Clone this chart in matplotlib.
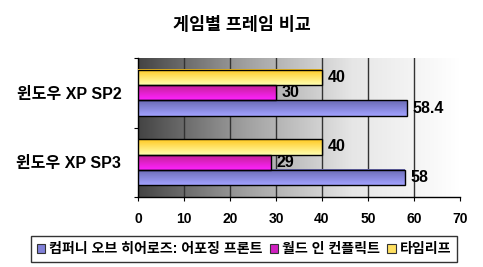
import numpy as np
import matplotlib
matplotlib.use('Agg')
import matplotlib.pyplot as plt
from matplotlib.colors import LinearSegmentedColormap
from matplotlib.patches import Patch

plt.rcParams['font.family'] = ['Liberation Sans', 'Noto Sans CJK KR']
plt.rcParams['font.weight'] = 'bold'

categories = ['윈도우 XP SP2', '윈도우 XP SP3']
series_names = ['컴퍼니 오브 히어로즈: 어포징 프론트', '월드 인 컨플릭트', '타임리프']
coh = [58.4, 58]
wic = [30, 29]
timeleap = [40, 40]
values = [coh, wic, timeleap]

# (top colour, bottom colour, legend colour)
colors = [('#6a6ab4', '#a2a2ff', '#8080d8'),
          ('#c02090', '#ff22ff', '#d020c0'),
          ('#ffc820', '#ffffb0', '#ffe060')]
offsets = [0.223, 0.0, -0.223]
bar_h = 0.223

fig = plt.figure(figsize=(4.83, 2.67), dpi=100)
ax = fig.add_axes([138/483, 1-197/267, 322/483, 139/267])

# background gradient
bg = LinearSegmentedColormap.from_list('bg', ['#444444', '#a0a0a0', '#e6e6e6', '#ffffff'])
ax.imshow(np.linspace(0, 1, 256).reshape(1, -1), cmap=bg, aspect='auto',
          extent=[0, 70, 1.5, -0.5], zorder=0)

y = np.arange(len(categories))
for vals, (c_top, c_bot, _), off in zip(values, colors, offsets):
    cmap = LinearSegmentedColormap.from_list('g', [c_top, c_bot])
    grad = np.linspace(0, 1, 64).reshape(-1, 1)
    for yi, v in zip(y, vals):
        y0 = yi + off - bar_h / 2
        y1 = yi + off + bar_h / 2
        ax.imshow(grad, cmap=cmap, aspect='auto', extent=[0, v, y1, y0], zorder=3)
        ax.text(v + 1.2, yi + off, f'{v:g}', va='center', ha='left',
                fontsize=11.5, fontweight='bold', zorder=5)
    ax.barh(y + off, vals, height=bar_h, facecolor='none', edgecolor='black',
            linewidth=1.0, zorder=4)

ax.set_xlim(0, 70)
ax.set_ylim(1.5, -0.5)
ax.set_xticks(range(0, 71, 10))
ax.set_xticklabels([str(t) for t in range(0, 71, 10)], fontsize=10, fontweight='bold')
ax.set_yticks([-0.5, 0.5, 1.5])
ax.set_yticklabels([])
ax.set_yticks(y, minor=True)
ax.set_yticklabels(categories, minor=True, fontsize=11.5, fontweight='bold')
ax.tick_params(axis='y', which='minor', length=0, pad=12)
ax.tick_params(axis='y', which='major', length=3, direction='out')
ax.tick_params(axis='x', length=3, direction='out', pad=8)
for xv in range(10, 70, 10):
    ax.axvline(xv, color='#333333', linewidth=1.0, zorder=1)
ax.spines['top'].set_visible(False)
ax.spines['right'].set_visible(False)
ax.spines['left'].set_linewidth(1.0)
ax.spines['bottom'].set_linewidth(1.0)

fig.text(0.5, 1-25/267, '게임별 프레임 비교', ha='center', va='center',
         fontsize=12.5, fontweight='bold')

handles = [Patch(facecolor=c[2], edgecolor='#333333', linewidth=0.8) for c in colors]
leg = fig.legend(handles, series_names, loc='center', bbox_to_anchor=(244/483, 1-249/267),
                 ncol=3, fontsize=10.1, frameon=True, fancybox=False, edgecolor='black',
                 handlelength=0.6, handleheight=0.6, handletextpad=0.3, columnspacing=0.5,
                 borderpad=0.4, borderaxespad=0)
leg.get_frame().set_linewidth(1.0)

fig.savefig('out.png', dpi=100)
